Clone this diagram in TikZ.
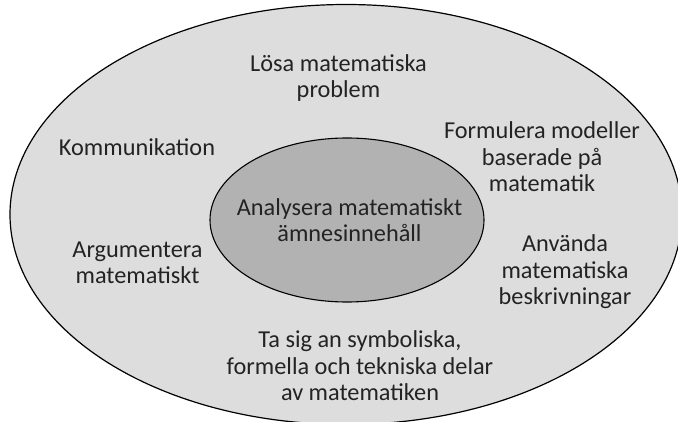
\documentclass[tikz,border=0pt]{standalone}
\usepackage{fontspec}
\setmainfont{Carlito}
\definecolor{outerfill}{RGB}{221, 221, 221}
\definecolor{innerfill}{RGB}{178, 178, 178}
\definecolor{textcol}{RGB}{35, 35, 35}
\tikzset{
  lbl/.style={align=center, text=textcol, inner sep=0pt,
    font=\fontsize{24.3}{26.5}\selectfont}
}

\begin{document}
\begin{tikzpicture}[x=1pt, y=-1pt]
  \useasboundingbox (0,0) rectangle (678,422);
  \fill[white] (0,0) rectangle (678,422);

  \begin{scope}
  		\clip (0,0) rectangle (678,422);
  		\draw[fill=outerfill, line width=1.2pt] (346,214.5) ellipse (336 and 210);
  \end{scope}
  \draw[fill=innerfill, line width=1.1pt] (347,220) ellipse (137 and 82);

  \node[lbl] (analys) at (349.5,220) {Analysera matematiskt\\ämnesinnehåll};
  \node[lbl] (losa) at (338.5,78) {Lösa matematiska\\problem};
  \node[lbl] (komm) at (137,147) {Kommunikation};
  \node[lbl] (formul) at (542,157) {Formulera modeller\\baserade på\\matematik};
  \node[lbl] (argum) at (137.5,263) {Argumentera\\matematiskt};
  \node[lbl] (anvanda) at (565,272) {Använda\\matematiska\\beskrivningar};
  \node[lbl] (symbol) at (360,366) {Ta sig an symboliska,\\formella och tekniska delar\\av matematiken};
\end{tikzpicture}
\end{document}
